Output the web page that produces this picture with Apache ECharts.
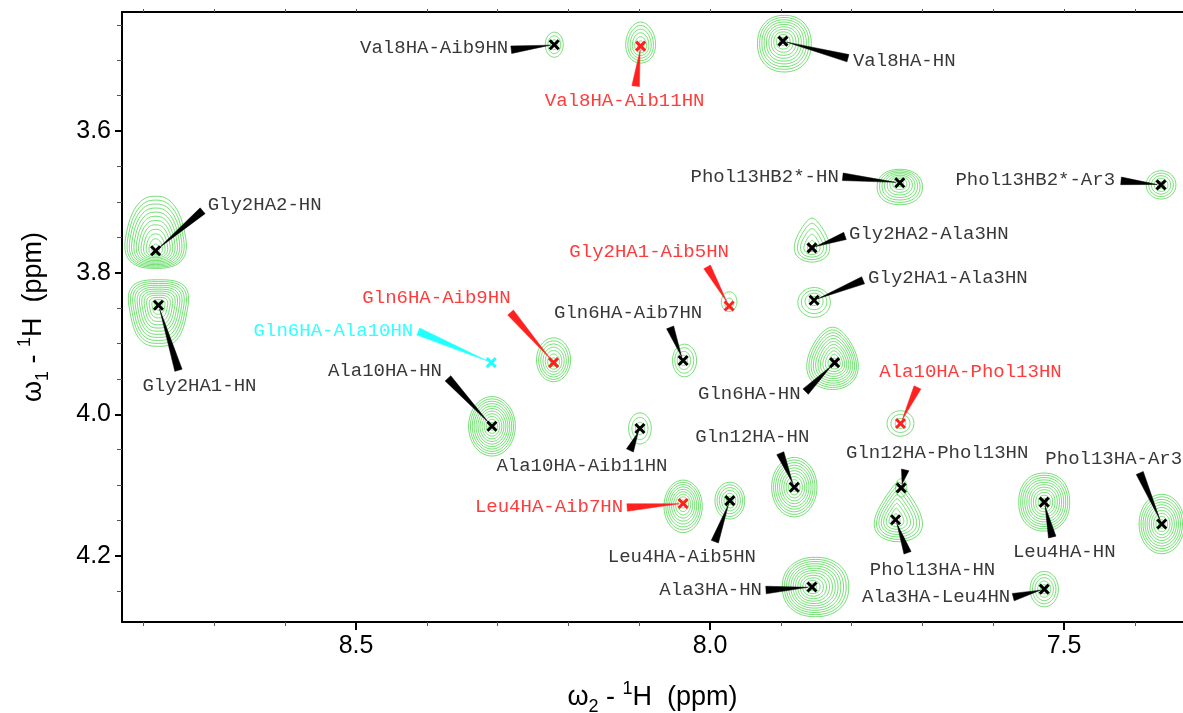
<!DOCTYPE html>
<html>
<head>
<meta charset="utf-8">
<script src="https://cdn.jsdelivr.net/npm/echarts@6/dist/echarts.min.js"></script>
<style>
html,body{margin:0;padding:0;background:#fff;}
#chart{width:1183px;height:713px;}
</style>
</head>
<body>
<div id="chart"></div>
<script>
// ---------------- DATA ----------------
const peakNames = [
  'Val8HA-Aib9HN','Val8HA-Aib11HN','Val8HA-HN','Phol13HB2*-HN','Phol13HB2*-Ar3',
  'Gly2HA2-HN','Gly2HA1-HN','Gly2HA2-Ala3HN','Gly2HA1-Ala3HN','Gly2HA1-Aib5HN',
  'Gln6HA-Aib9HN','Gln6HA-Ala10HN','Gln6HA-Aib7HN','Gln6HA-HN','Ala10HA-HN',
  'Ala10HA-Aib11HN','Ala10HA-Phol13HN','Gln12HA-HN','Gln12HA-Phol13HN','Phol13HA-HN',
  'Leu4HA-HN','Phol13HA-Ar3','Ala3HA-Leu4HN','Ala3HA-HN','Leu4HA-Aib7HN','Leu4HA-Aib5HN'
];
// omega2 (1H, ppm)
const shiftW2 = [
  8.220, 8.098, 7.897, 7.732, 7.363,
  8.783, 8.779, 7.856, 7.853, 7.973,
  8.221, 8.309, 8.038, 7.824, 8.308,
  8.099, 7.731, 7.881, 7.730, 7.738,
  7.528, 7.362, 7.528, 7.856, 8.038, 7.972
];
// omega1 (1H, ppm)
const shiftW1 = [
  3.478, 3.480, 3.473, 3.673, 3.676,
  3.769, 3.846, 3.765, 3.839, 3.847,
  3.927, 3.927, 3.924, 3.927, 4.017,
  4.020, 4.013, 4.103, 4.104, 4.149,
  4.124, 4.155, 4.247, 4.244, 4.126, 4.122
];
// assignment class: k = standard, r = red, c = cyan
const peakClass = [
  'k','r','k','k','k',
  'k','k','k','k','r',
  'r','c','k','k','k',
  'k','r','k','k','k',
  'k','k','k','k','r','k'
];
// contour extent (half widths in ppm) and number of contour levels
const contourHalfW2 = [
  0.0127, 0.021, 0.038, 0.032, 0.021,
  0.041, 0.040, 0.023, 0.023, 0.011,
  0.024, 0, 0.017, 0.035, 0.033,
  0.016, 0.019, 0.032, 0.008, 0.030,
  0.036, 0.032, 0.020, 0.047, 0.027, 0.021
];
const contourHalfW1 = [
  0.0177, 0.029, 0.040, 0.025, 0.020,
  0.051, 0.047, 0.031, 0.021, 0.014,
  0.031, 0, 0.023, 0.044, 0.042,
  0.022, 0.018, 0.042, 0.013, 0.042,
  0.041, 0.042, 0.025, 0.042, 0.037, 0.026
];
const contourLevels = [
  3, 6, 10, 8, 5,
  12, 12, 5, 4, 2,
  7, 0, 4, 11, 11,
  3, 3, 10, 1, 8,
  11, 10, 5, 12, 9, 6
];
const xMajorTicks = [7.5, 8.0, 8.5];
const xMinorTicks = [7.4, 7.6, 7.7, 7.8, 7.9, 8.1, 8.2, 8.3, 8.4, 8.6, 8.7, 8.8];
const yMajorTicks = [3.6, 3.8, 4.0, 4.2];
const yMinorTicks = [3.45, 3.5, 3.55, 3.65, 3.7, 3.75, 3.85, 3.9, 3.95, 4.05, 4.1, 4.15, 4.25];
const xRange = [7.332, 8.8305];
const yRange = [3.4318, 4.2934];

// ---------------- LAYOUT / STYLE ----------------
// contour shape: [centre shift w2 (ppm), centre shift w1 (ppm), taper, squareness]
const contourShape = [
  [0,0,0,2],[0,-0.005,0.1,2],[-0.002,0.0035,0,2.2],[0,0.006,0,2.2],[0,0,0,2],
  [0,-0.026,0.25,2.6],[0,0.011,-0.22,3],[0,-0.011,0.45,2],[0,0.003,0,2],[0,-0.006,0,2],
  [0,-0.004,0,2],[0,0,0,2],[-0.002,0,0,2],[0.003,-0.006,0.3,2],[0,0,0,2],
  [0,0,0,2],[0,0,0,2],[0,0,0,2],[0,0,0,2],[-0.004,-0.011,0.6,2],
  [0,0,0,2.2],[0,0,0,2],[0,0,0,2],[-0.005,0,0,2.2],[0,0.004,0,2],[0,0,0,2]
];
// label layout in px relative to the peak: [text dx, text dy, align, pointer base dx, pointer base dy]
const labelLayout = [
  [-46,3,'right',-43,5],[-16,55,'center',-5,40],[70,20,'left',65,17],[-61,-6,'right',-57,-6],[-46,-5,'right',-40,-4],
  [52,-46,'left',47,-40],[41,81,'center',20,65],[37,-14,'left',33,-12],[54,-22,'left',49,-20],[-80,-54,'center',-22,-39],
  [-43,-65,'right',-43,-50],[-78,-32,'right',-73,-31],[-55,-48,'center',-13,-33],[-34,31,'right',-29,29],[-50,-55,'right',-44,-48],
  [-58,38,'center',-10,22],[70,-52,'center',17,-36],[-42,-50,'center',-14,-34],[36,-35,'center',4,-18],[37,50,'center',12,33],
  [20,50,'center',8,35],[-48,-65,'center',-22,-51],[-34,8,'right',-31,8],[-50,3,'right',-46,3],[-60,3,'right',-56,4],[-48,56,'center',-15,41]
];
const textColor = {k:'#383838', r:'#ff3b3b', c:'#33ffff'};
const markColor = {k:'#000000', r:'#ff2020', c:'#22ffff'};
const contourColor = '#44d444';

// ---------------- CHART ----------------
const peakData = peakNames.map((n, i) => [shiftW2[i], shiftW1[i], i]);

function contourItem(params, api) {
  const i = api.value(2);
  const n = contourLevels[i];
  if (!n) return null;
  const sh = contourShape[i];
  const p = api.coord([api.value(0), api.value(1)]);
  const c = api.coord([api.value(0) + sh[0], api.value(1) + sh[1]]);
  const sz = api.size([contourHalfW2[i], contourHalfW1[i]]);
  const a = sz[0], b = sz[1], t = sh[2], q = sh[3];
  const children = [];
  for (let k = 0; k < n; k++) {
    const s = Math.pow((n - k) / n, 0.85);
    const cx = p[0] + (c[0] - p[0]) * s;
    const cy = p[1] + (c[1] - p[1]) * s;
    const pts = [];
    const N = 64;
    for (let j = 0; j < N; j++) {
      const th = j / N * Math.PI * 2;
      const ux = Math.cos(th), uy = Math.sin(th);
      const ex = Math.sign(ux) * Math.pow(Math.abs(ux), 2 / q);
      const ey = Math.sign(uy) * Math.pow(Math.abs(uy), 2 / q);
      pts.push([cx + a * s * ex * (1 + t * ey), cy + b * s * ey]);
    }
    children.push({type:'polygon', shape:{points:pts}, style:{fill:'none', stroke:contourColor, lineWidth:0.75}});
  }
  return {type:'group', children};
}

function pointerItem(params, api) {
  const i = api.value(2);
  const L = labelLayout[i];
  const p = api.coord([api.value(0), api.value(1)]);
  const bx = p[0] + L[3], by = p[1] + L[4];
  const dx = L[3], dy = L[4];
  const len = Math.sqrt(dx*dx + dy*dy);
  const ux = dx / len, uy = dy / len;
  const nx = -uy, ny = ux;
  const tip = [p[0] + ux * 4, p[1] + uy * 4];
  const hwid = 3.8;
  const col = markColor[peakClass[i]];
  return {type:'polygon', shape:{points:[tip, [bx + nx*hwid, by + ny*hwid], [bx - nx*hwid, by - ny*hwid]]},
          style:{fill:col, stroke:col, lineWidth:0.5}};
}

function crossItem(params, api) {
  const i = api.value(2);
  const p = api.coord([api.value(0), api.value(1)]);
  const r = 4.5;
  const col = markColor[peakClass[i]];
  const st = {stroke:col, lineWidth:3, lineCap:'butt'};
  return {type:'group', children:[
    {type:'line', shape:{x1:p[0]-r, y1:p[1]-r, x2:p[0]+r, y2:p[1]+r}, style:st},
    {type:'line', shape:{x1:p[0]-r, y1:p[1]+r, x2:p[0]+r, y2:p[1]-r}, style:st}
  ]};
}

function labelItem(params, api) {
  const i = api.value(2);
  const L = labelLayout[i];
  const p = api.coord([api.value(0), api.value(1)]);
  return {type:'text', x:p[0] + L[0], y:p[1] + L[1],
    style:{text:peakNames[i], fill:textColor[peakClass[i]], fontSize:19, fontFamily:'Liberation Mono',
           align:L[2], verticalAlign:'middle'}};
}

const axisFont = 'Liberation Sans';
const nameRich = {
  t:{fontSize:27, fontFamily:axisFont, color:'#000', lineHeight:36},
  s:{fontSize:18, fontFamily:axisFont, color:'#000', verticalAlign:'bottom'},
  p:{fontSize:18, fontFamily:axisFont, color:'#000', verticalAlign:'top'}
};

const chart = echarts.init(document.getElementById('chart'), null, {renderer:'canvas'});
chart.setOption({
  animation:false,
  backgroundColor:'#ffffff',
  grid:{left:122, top:12, right:0, bottom:91, containLabel:false, outerBoundsMode:'none'},
  xAxis:[
    {type:'value', min:xRange[0], max:xRange[1], inverse:true, position:'bottom',
     axisLine:{lineStyle:{color:'#000', width:2}},
     axisTick:{customValues:xMajorTicks, length:8, lineStyle:{color:'#000', width:2}},
     axisLabel:{customValues:xMajorTicks, formatter:v => Number(v).toFixed(1), fontSize:25, fontFamily:axisFont, color:'#000', margin:12},
     splitLine:{show:false},
     name:'{t|ω}{s|2}{t| - }{p|1}{t|H  (ppm)}', nameLocation:'middle', nameGap:58,
     nameTextStyle:{rich:nameRich}},
    {type:'value', min:xRange[0], max:xRange[1], inverse:true, position:'bottom',
     axisLine:{show:false},
     axisTick:{customValues:xMinorTicks, length:4, lineStyle:{color:'#555', width:1}},
     axisLabel:{show:false}, splitLine:{show:false}},
    {type:'value', min:xRange[0], max:xRange[1], inverse:true, position:'top',
     axisLine:{lineStyle:{color:'#000', width:2}},
     axisTick:{customValues:xMinorTicks.concat(xMajorTicks), length:3, lineStyle:{color:'#555', width:1}},
     axisLabel:{show:false}, splitLine:{show:false}}
  ],
  yAxis:[
    {type:'value', min:yRange[0], max:yRange[1], inverse:true, position:'left',
     axisLine:{lineStyle:{color:'#000', width:2}},
     axisTick:{customValues:yMajorTicks, length:7, lineStyle:{color:'#000', width:2}},
     axisLabel:{customValues:yMajorTicks, formatter:v => Number(v).toFixed(1), fontSize:25, fontFamily:axisFont, color:'#000', margin:11},
     splitLine:{show:false},
     name:'{t|ω}{s|1}{t| - }{p|1}{t|H  (ppm)}', nameLocation:'middle', nameGap:70, nameRotate:90,
     nameTextStyle:{rich:nameRich}},
    {type:'value', min:yRange[0], max:yRange[1], inverse:true, position:'left',
     axisLine:{show:false},
     axisTick:{customValues:yMinorTicks, length:5, lineStyle:{color:'#555', width:1}},
     axisLabel:{show:false}, splitLine:{show:false}}
  ],
  series:[
    {type:'custom', name:'contours', xAxisIndex:0, yAxisIndex:0, clip:true, silent:true,
     encode:{x:0, y:1}, data:peakData, renderItem:contourItem, z:1},
    {type:'custom', name:'pointers', xAxisIndex:0, yAxisIndex:0, silent:true,
     encode:{x:0, y:1}, data:peakData, renderItem:pointerItem, z:2},
    {type:'custom', name:'peaks', xAxisIndex:0, yAxisIndex:0, silent:true,
     encode:{x:0, y:1}, data:peakData, renderItem:crossItem, z:3},
    {type:'custom', name:'labels', xAxisIndex:0, yAxisIndex:0, silent:true,
     encode:{x:0, y:1}, data:peakData, renderItem:labelItem, z:4}
  ]
});
</script>
</body>
</html>
